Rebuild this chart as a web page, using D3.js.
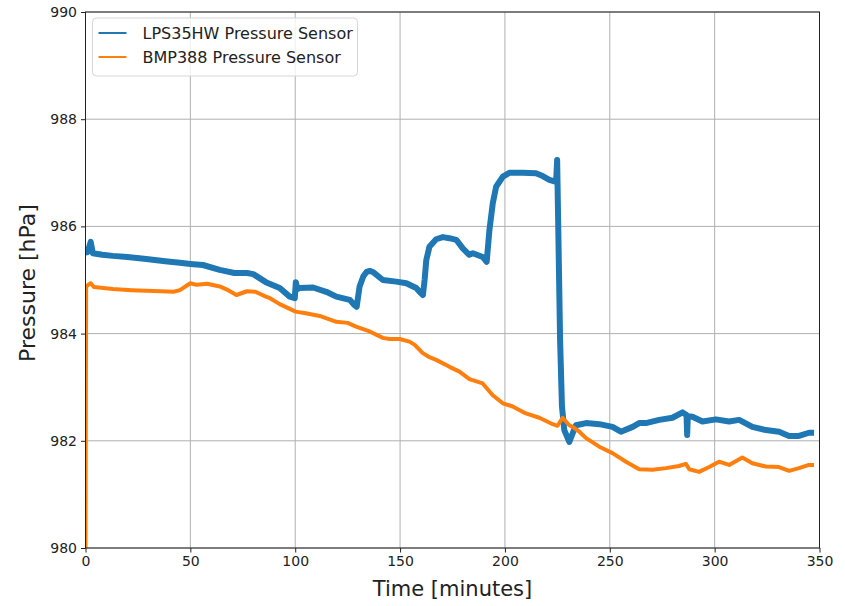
<!DOCTYPE html>
<html>
<head>
<meta charset="utf-8">
<script src="https://cdn.jsdelivr.net/npm/d3@7"></script>
<style>
  body { margin: 0; background: #fff; }
  svg { font-family: "DejaVu Sans", sans-serif; }
</style>
</head>
<body>
<div id="chart"></div>
<script>
// time in minutes, pressure in hPa
var lpsTime = [0, 1, 2.5, 3.5, 8, 13, 20, 29, 38, 45, 50, 56, 64, 71, 77, 80, 86, 92.6, 97.4, 99.8, 100.3, 101, 102,
  108.5, 114.8, 119.6, 126, 128.3, 129.3, 130.7, 132.5, 134, 135.6, 137, 141.8, 148.2, 153, 157.7, 159.3, 160.9,
  161.7, 162.5, 164, 167.2, 170.4, 173.5, 176.8, 179.9, 183, 184.7, 189.4, 191.3, 192.6, 194.2, 195.8, 199, 202.1,
  208.5, 214.8, 218, 221.2, 224.4, 224.9, 225.3, 226.3, 227.2, 228.3, 230.7, 232.5, 233.9, 238.7, 245, 251.3, 255.3,
  260.9, 264, 267.2, 273.6, 279.9, 284.7, 286.6, 286.9, 287.2, 289.4, 294.2, 300.6, 306.9, 311.7, 318, 324.4, 330.7,
  335.5, 340.2, 345, 347.4];
var lpsPressure = [985.51, 985.52, 985.71, 985.50, 985.47, 985.45, 985.43, 985.39, 985.35, 985.32, 985.30, 985.28,
  985.19, 985.13, 985.13, 985.11, 984.96, 984.85, 984.69, 984.66, 984.96, 984.83, 984.85,
  984.86, 984.78, 984.69, 984.63, 984.53, 984.50, 984.88, 985.07, 985.15, 985.17, 985.15, 985.00, 984.97, 984.94,
  984.85, 984.78, 984.72, 985.00, 985.37, 985.62, 985.76, 985.80, 985.78, 985.75, 985.59, 985.47, 985.50, 985.43,
  985.34, 985.93, 986.43, 986.74, 986.93, 987.00, 987.00, 986.99, 986.94, 986.87, 986.83, 987.24, 986.30, 983.88,
  982.64, 982.20, 981.98, 982.16, 982.29, 982.33, 982.31, 982.26, 982.17, 982.26, 982.33, 982.33, 982.39, 982.43,
  982.53, 982.48, 982.11, 982.46, 982.45, 982.36, 982.40, 982.36, 982.39, 982.26, 982.20, 982.17, 982.09, 982.09,
  982.15, 982.15];

var bmpTime = [0, 0.3, 2.5, 4, 13, 22, 29, 36, 42, 45, 50, 53, 58, 64, 68, 72, 77, 81, 86, 88, 92.6, 100.2, 105,
  111.7, 119.6, 125, 129, 135.5, 141.8, 145, 149.8, 154.5, 157, 160.7, 164, 167.2, 173.6, 178.3, 183.1, 189.4,
  194.2, 199, 203.7, 210, 216.4, 222.8, 225.1, 227.5, 230.7, 232.3, 235.5, 238.7, 245, 251.3, 257.7, 264, 270.4,
  276.8, 283, 286.3, 287.9, 292.6, 297.4, 302.1, 306.9, 313.2, 318, 324.4, 330.7, 335.5, 340.2, 345, 347.4];
var bmpPressure = [980.0, 984.88, 984.94, 984.87, 984.83, 984.81, 984.80, 984.79, 984.78, 984.81, 984.94, 984.91,
  984.93, 984.88, 984.81, 984.72, 984.79, 984.78, 984.69, 984.66, 984.55, 984.41, 984.38,
  984.33, 984.22, 984.20, 984.13, 984.04, 983.92, 983.90, 983.90, 983.85, 983.79, 983.64, 983.56, 983.51, 983.38,
  983.29, 983.15, 983.07, 982.85, 982.70, 982.64, 982.51, 982.43, 982.31, 982.28, 982.43, 982.29, 982.26, 982.17,
  982.05, 981.89, 981.77, 981.61, 981.47, 981.46, 981.49, 981.53, 981.57, 981.47, 981.42, 981.51, 981.61, 981.55,
  981.69, 981.58, 981.52, 981.51, 981.44, 981.49, 981.55, 981.55];

var xTicks = [0, 50, 100, 150, 200, 250, 300, 350];
var yTicks = [980, 982, 984, 986, 988, 990];
var seriesNames = ["LPS35HW Pressure Sensor", "BMP388 Pressure Sensor"];
var seriesColors = ["#1f77b4", "#ff7f0e"];

var W = 845, H = 606;
var margin = {left: 85.5, right: 25.5, top: 12, bottom: 58};
var width = W - margin.left - margin.right;
var height = H - margin.top - margin.bottom;

var svg = d3.select("#chart").append("svg")
  .attr("width", W)
  .attr("height", H);

var g = svg.append("g")
  .attr("transform", "translate(" + margin.left + "," + margin.top + ")");

var x = d3.scaleLinear().domain([0, 350]).range([0, width]);
var y = d3.scaleLinear().domain([980, 990]).range([height, 0]);

// grid
g.append("g").selectAll("line").data(xTicks).join("line")
  .attr("x1", d => x(d)).attr("x2", d => x(d))
  .attr("y1", 0).attr("y2", height)
  .attr("stroke", "#b0b0b0").attr("stroke-width", 1);
g.append("g").selectAll("line").data(yTicks).join("line")
  .attr("x1", 0).attr("x2", width)
  .attr("y1", d => y(d)).attr("y2", d => y(d))
  .attr("stroke", "#b0b0b0").attr("stroke-width", 1);

g.append("clipPath").attr("id", "clip")
  .append("rect").attr("width", width).attr("height", height);

var line = d3.line()
  .x(d => x(d[0]))
  .y(d => y(d[1]));

var lps = lpsTime.map((t, i) => [t, lpsPressure[i]]);
var bmp = bmpTime.map((t, i) => [t, bmpPressure[i]]);

var plot = g.append("g").attr("clip-path", "url(#clip)");
plot.append("path").datum(lps)
  .attr("fill", "none").attr("stroke", seriesColors[0])
  .attr("stroke-width", 6).attr("stroke-linejoin", "round")
  .attr("d", line);
plot.append("path").datum(bmp)
  .attr("fill", "none").attr("stroke", seriesColors[1])
  .attr("stroke-width", 4).attr("stroke-linejoin", "round")
  .attr("d", line);

// axes
var xAxis = g.append("g")
  .attr("transform", "translate(0," + height + ")")
  .call(d3.axisBottom(x).tickValues(xTicks).tickSize(4.5).tickSizeOuter(0).tickPadding(4));
var yAxis = g.append("g")
  .call(d3.axisLeft(y).tickValues(yTicks).tickSize(4.5).tickSizeOuter(0).tickPadding(4));
[xAxis, yAxis].forEach(function(a) {
  a.select(".domain").remove();
  a.selectAll("text").attr("font-size", 14).attr("fill", "#222").attr("font-family", "DejaVu Sans");
  a.selectAll(".tick line").attr("stroke", "#222").attr("stroke-width", 1);
});

// frame
g.append("rect").attr("width", width).attr("height", height)
  .attr("fill", "none").attr("stroke", "#222").attr("stroke-width", 1);

// axis labels
svg.append("text")
  .attr("x", margin.left + width / 2).attr("y", 596)
  .attr("text-anchor", "middle").attr("font-size", 21).attr("fill", "#222")
  .text("Time [minutes]");
svg.append("text")
  .attr("transform", "translate(35," + (margin.top + height / 2 + 3) + ") rotate(-90)")
  .attr("text-anchor", "middle").attr("font-size", 22).attr("fill", "#222")
  .text("Pressure [hPa]");

// legend
var legend = g.append("g").attr("transform", "translate(7,6)");
legend.append("rect")
  .attr("width", 265).attr("height", 58).attr("rx", 4)
  .attr("fill", "#fff").attr("fill-opacity", 0.8)
  .attr("stroke", "#d6d6d6").attr("stroke-width", 1);
seriesNames.forEach(function(name, i) {
  var row = legend.append("g").attr("transform", "translate(0," + (15 + i * 24) + ")");
  row.append("line").attr("x1", 6).attr("x2", 34).attr("y1", 0).attr("y2", 0)
    .attr("stroke", seriesColors[i]).attr("stroke-width", 2);
  row.append("text").attr("x", 50).attr("y", 5.5)
    .attr("font-size", 16).attr("fill", "#222").text(name);
});
</script>
</body>
</html>
